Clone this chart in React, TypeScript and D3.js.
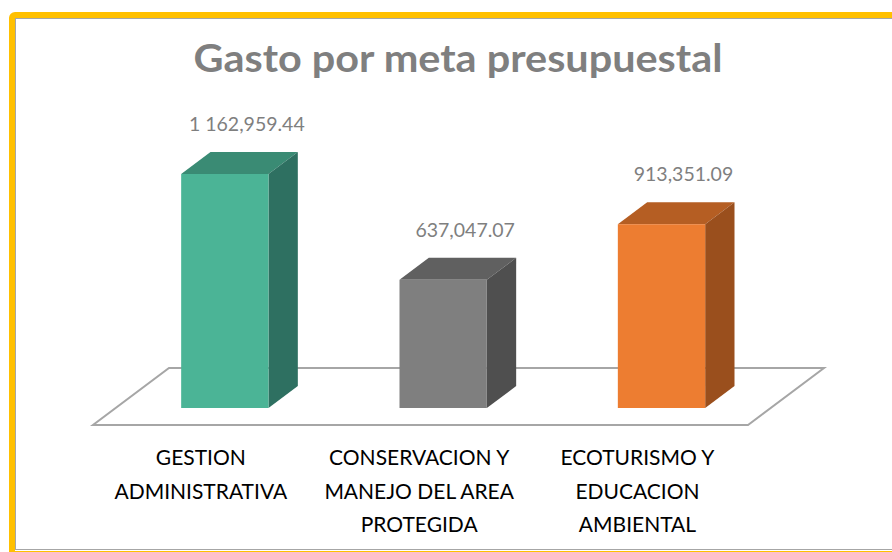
import React from "react";
import * as d3 from "d3";

const title = "Gasto por meta presupuestal";
const categories = ["GESTION ADMINISTRATIVA", "CONSERVACION Y MANEJO DEL AREA PROTEGIDA", "ECOTURISMO Y EDUCACION AMBIENTAL"];
const categoryLines = [
  ["GESTION", "ADMINISTRATIVA"],
  ["CONSERVACION Y", "MANEJO DEL AREA", "PROTEGIDA"],
  ["ECOTURISMO Y", "EDUCACION", "AMBIENTAL"],
];
const values = [1162959.44, 637047.07, 913351.09];
const valueLabels = ["1 162,959.44", "637,047.07", "913,351.09"];
const frontColors = ["#4BB496", "#7F7F7F", "#ED7D31"];
const topColors = ["#3A8B74", "#606060", "#B55E23"];
const sideColors = ["#2E7061", "#4F4F4F", "#9A4F1D"];

const W = 892;
const H = 552;

// floor geometry
const floorFrontY = 425;
const floorLeft = 93;
const floorRight = 748;
const floorDX = 76;
const floorDY = -57;
// bar placement inside the floor depth
const barFrontShift = 17 / 57; // fraction of floor depth to bar front
const barDepthFrac = 22 / 57;

export default function App() {
  const bx = barFrontShift * floorDX;
  const by = barFrontShift * floorDY;
  const ddx = barDepthFrac * floorDX;
  const ddy = barDepthFrac * floorDY;

  const x = d3
    .scaleBand<string>()
    .domain(categories)
    .range([floorLeft + bx, floorRight + bx])
    .paddingInner(0.6)
    .paddingOuter(0.3);

  const baseY = floorFrontY + by;
  const y = d3.scaleLinear().domain([0, 1400000]).range([baseY, baseY - 281.7]);

  const poly = (pts: [number, number][]) => "M" + pts.map((p) => p.join(",")).join("L") + "Z";

  const font = "Lato, 'Open Sans', sans-serif";

  return (
    <svg
      width={W}
      height={H}
      style={{ position: "absolute", left: 0, top: 0, background: "#fff" }}
    >
      <rect x={0} y={0} width={W} height={H} fill="#fff" />
      <rect x={12} y={15} width={910} height={539} rx={3} fill="none" stroke="#FFC000" strokeWidth={6} />
      <rect x={15.5} y={18.5} width={910} height={531} fill="none" stroke="#A6A6A6" strokeWidth={1} />

      <text
        x={458}
        y={72}
        textAnchor="middle"
        fill="#7F7F7F"
        fontFamily={font}
        fontWeight="bold"
        fontSize={39}
        textLength={529}
        lengthAdjust="spacingAndGlyphs"
      >
        {title}
      </text>

      {/* floor */}
      <path
        d={poly([
          [floorLeft, floorFrontY],
          [floorRight, floorFrontY],
          [floorRight + floorDX, floorFrontY + floorDY],
          [floorLeft + floorDX, floorFrontY + floorDY],
        ])}
        fill="#fff"
        stroke="#A6A6A6"
        strokeWidth={2}
      />

      {categories.map((c, i) => {
        const x0 = x(c)!;
        const x1 = x0 + x.bandwidth();
        const yt = y(values[i]);
        const y0 = y(0);
        return (
          <g key={c}>
            <path
              d={poly([
                [x0, yt],
                [x1, yt],
                [x1 + ddx, yt + ddy],
                [x0 + ddx, yt + ddy],
              ])}
              fill={topColors[i]}
            />
            <path
              d={poly([
                [x1, yt],
                [x1 + ddx, yt + ddy],
                [x1 + ddx, y0 + ddy],
                [x1, y0],
              ])}
              fill={sideColors[i]}
            />
            <rect x={x0} y={yt} width={x.bandwidth()} height={y0 - yt} fill={frontColors[i]} />
            <text
              x={(x0 + x1) / 2 + 22}
              y={yt + ddy - 21}
              textAnchor="middle"
              fill="#7F7F7F"
              fontFamily={font}
              fontSize={19.5}
            >
              {valueLabels[i]}
            </text>
            <text
              textAnchor="middle"
              fill="#000"
              fontFamily={font}
              fontSize={21}
            >
              {categoryLines[i].map((ln, j) => (
                <tspan key={j} x={(x0 + x1) / 2 - 24} y={465 + j * 33.5}>
                  {ln}
                </tspan>
              ))}
            </text>
          </g>
        );
      })}
    </svg>
  );
}
